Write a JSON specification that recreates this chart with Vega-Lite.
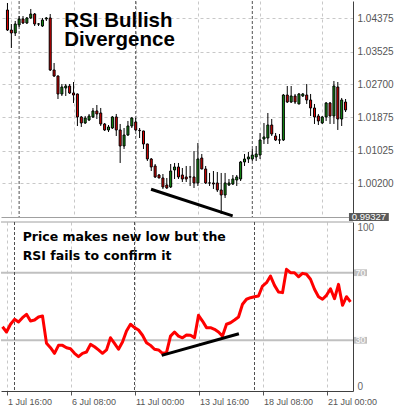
{
 "$schema": "https://vega.github.io/schema/vega-lite/v6.json",
 "padding": 0,
 "background": "white",
 "spacing": 5,
 "bounds": "flush",
 "config": {"view": {"stroke": null}, "axis": {"labelFont": "Liberation Sans", "titleFont": "Liberation Sans"}},
 "resolve": {"scale": {"x": "independent", "y": "independent"}},
 "datasets": {
  "seps": [{"s": 3}, {"s": 33}, {"s": 63}],
  "bars": [
  {"i":0,"o":1.04585,"h":1.04762,"l":1.04054,"c":1.04079,"rsi":38.0},
  {"i":1,"o":1.04079,"h":1.04231,"l":1.03624,"c":1.04003,"rsi":34.9},
  {"i":2,"o":1.04003,"h":1.04307,"l":1.03927,"c":1.04231,"rsi":39.5},
  {"i":3,"o":1.04206,"h":1.04433,"l":1.04155,"c":1.04358,"rsi":42.4},
  {"i":4,"o":1.04358,"h":1.04433,"l":1.04231,"c":1.04256,"rsi":40.8},
  {"i":5,"o":1.04256,"h":1.04408,"l":1.04231,"c":1.04383,"rsi":43.4},
  {"i":6,"o":1.04383,"h":1.04611,"l":1.04358,"c":1.04484,"rsi":45.4},
  {"i":7,"o":1.04484,"h":1.04509,"l":1.04180,"c":1.04231,"rsi":41.4},
  {"i":8,"o":1.04229,"h":1.04256,"l":1.04180,"c":1.04233,"rsi":42.0},
  {"i":9,"o":1.04180,"h":1.04383,"l":1.04155,"c":1.04332,"rsi":43.8},
  {"i":10,"o":1.04358,"h":1.04408,"l":1.04307,"c":1.04383,"rsi":44.4},
  {"i":11,"o":1.04383,"h":1.04484,"l":1.03042,"c":1.03067,"rsi":28.2},
  {"i":12,"o":1.03067,"h":1.03244,"l":1.02890,"c":1.02915,"rsi":25.6},
  {"i":13,"o":1.02915,"h":1.02930,"l":1.02333,"c":1.02460,"rsi":22.3},
  {"i":14,"o":1.02460,"h":1.02713,"l":1.02409,"c":1.02637,"rsi":27.0},
  {"i":15,"o":1.02612,"h":1.02713,"l":1.02409,"c":1.02662,"rsi":27.0},
  {"i":16,"o":1.02662,"h":1.02713,"l":1.02460,"c":1.02485,"rsi":25.6},
  {"i":17,"o":1.02485,"h":1.02763,"l":1.02232,"c":1.02434,"rsi":25.0},
  {"i":18,"o":1.02460,"h":1.02470,"l":1.01650,"c":1.01878,"rsi":22.3},
  {"i":19,"o":1.01878,"h":1.01903,"l":1.01625,"c":1.01726,"rsi":20.3},
  {"i":20,"o":1.01726,"h":1.01903,"l":1.01701,"c":1.01852,"rsi":22.3},
  {"i":21,"o":1.01802,"h":1.01954,"l":1.01777,"c":1.01903,"rsi":23.1},
  {"i":22,"o":1.01878,"h":1.02106,"l":1.01852,"c":1.02030,"rsi":27.6},
  {"i":23,"o":1.02030,"h":1.02181,"l":1.01827,"c":1.01954,"rsi":26.2},
  {"i":24,"o":1.01979,"h":1.02106,"l":1.01650,"c":1.01701,"rsi":24.3},
  {"i":25,"o":1.01701,"h":1.01726,"l":1.01524,"c":1.01549,"rsi":22.3},
  {"i":26,"o":1.01549,"h":1.01675,"l":1.01498,"c":1.01625,"rsi":24.3},
  {"i":27,"o":1.01599,"h":1.01903,"l":1.01574,"c":1.01878,"rsi":31.5},
  {"i":28,"o":1.01878,"h":1.01954,"l":1.01397,"c":1.01549,"rsi":28.2},
  {"i":29,"o":1.01549,"h":1.01701,"l":1.00714,"c":1.01144,"rsi":24.7},
  {"i":30,"o":1.01144,"h":1.01599,"l":1.01068,"c":1.01422,"rsi":29.0},
  {"i":31,"o":1.01422,"h":1.01777,"l":1.01397,"c":1.01650,"rsi":35.5},
  {"i":32,"o":1.01650,"h":1.01878,"l":1.01599,"c":1.01852,"rsi":39.5},
  {"i":33,"o":1.01751,"h":1.01852,"l":1.01524,"c":1.01549,"rsi":37.5},
  {"i":34,"o":1.01540,"h":1.01599,"l":1.01346,"c":1.01532,"rsi":36.1},
  {"i":35,"o":1.01524,"h":1.01530,"l":1.01068,"c":1.01195,"rsi":33.0},
  {"i":36,"o":1.01195,"h":1.01200,"l":1.00764,"c":1.00815,"rsi":28.6},
  {"i":37,"o":1.00815,"h":1.00840,"l":1.00511,"c":1.00613,"rsi":27.0},
  {"i":38,"o":1.00638,"h":1.00688,"l":1.00334,"c":1.00360,"rsi":24.7},
  {"i":39,"o":1.00410,"h":1.00435,"l":1.00330,"c":1.00334,"rsi":24.3},
  {"i":40,"o":1.00334,"h":1.00435,"l":1.00056,"c":1.00107,"rsi":22.3},
  {"i":41,"o":1.00157,"h":1.00334,"l":1.00056,"c":1.00081,"rsi":22.7},
  {"i":42,"o":1.00107,"h":1.00688,"l":1.00081,"c":1.00511,"rsi":32.5},
  {"i":43,"o":1.00537,"h":1.00714,"l":1.00309,"c":1.00613,"rsi":34.9},
  {"i":44,"o":1.00613,"h":1.00714,"l":1.00309,"c":1.00360,"rsi":32.5},
  {"i":45,"o":1.00410,"h":1.00587,"l":1.00233,"c":1.00309,"rsi":31.5},
  {"i":46,"o":1.00360,"h":1.00638,"l":1.00233,"c":1.00309,"rsi":33.1},
  {"i":47,"o":1.00362,"h":1.00638,"l":1.00132,"c":1.00358,"rsi":33.0},
  {"i":48,"o":1.00360,"h":1.01017,"l":1.00081,"c":1.00208,"rsi":31.5},
  {"i":49,"o":1.00208,"h":1.01220,"l":1.00132,"c":1.00815,"rsi":44.8},
  {"i":50,"o":1.00840,"h":1.00942,"l":1.00555,"c":1.00562,"rsi":41.4},
  {"i":51,"o":1.00562,"h":1.00638,"l":1.00182,"c":1.00208,"rsi":37.5},
  {"i":52,"o":1.00210,"h":1.00461,"l":1.00132,"c":1.00206,"rsi":37.5},
  {"i":53,"o":1.00208,"h":1.00511,"l":1.00056,"c":1.00182,"rsi":36.5},
  {"i":54,"o":1.00208,"h":1.00486,"l":0.99980,"c":1.00031,"rsi":34.9},
  {"i":55,"o":1.00031,"h":1.00461,"l":0.99423,"c":0.99904,"rsi":32.5},
  {"i":56,"o":0.99904,"h":1.00461,"l":0.99828,"c":1.00208,"rsi":39.5},
  {"i":57,"o":1.00157,"h":1.00309,"l":1.00132,"c":1.00208,"rsi":40.4},
  {"i":58,"o":1.00182,"h":1.00410,"l":1.00157,"c":1.00309,"rsi":42.0},
  {"i":59,"o":1.00284,"h":1.00410,"l":1.00132,"c":1.00360,"rsi":43.8},
  {"i":60,"o":1.00309,"h":1.00764,"l":1.00258,"c":1.00739,"rsi":51.3},
  {"i":61,"o":1.00739,"h":1.00942,"l":1.00638,"c":1.00815,"rsi":54.3},
  {"i":62,"o":1.00815,"h":1.00992,"l":1.00714,"c":1.00866,"rsi":55.2},
  {"i":63,"o":1.00815,"h":1.01068,"l":1.00764,"c":1.00916,"rsi":55.8},
  {"i":64,"o":1.00866,"h":1.01144,"l":1.00764,"c":1.00942,"rsi":56.2},
  {"i":65,"o":1.00916,"h":1.01473,"l":1.00815,"c":1.01296,"rsi":62.1},
  {"i":66,"o":1.01321,"h":1.01726,"l":1.01195,"c":1.01372,"rsi":64.1},
  {"i":67,"o":1.01346,"h":1.01979,"l":1.01195,"c":1.01675,"rsi":68.0},
  {"i":68,"o":1.01675,"h":1.01827,"l":1.01397,"c":1.01448,"rsi":62.5},
  {"i":69,"o":1.01397,"h":1.01473,"l":1.01270,"c":1.01296,"rsi":58.6},
  {"i":70,"o":1.01298,"h":1.01448,"l":1.01195,"c":1.01294,"rsi":58.2},
  {"i":71,"o":1.01296,"h":1.02460,"l":1.01270,"c":1.02434,"rsi":72.0},
  {"i":72,"o":1.02434,"h":1.02662,"l":1.02232,"c":1.02257,"rsi":70.0},
  {"i":73,"o":1.02257,"h":1.02662,"l":1.02232,"c":1.02409,"rsi":70.0},
  {"i":74,"o":1.02409,"h":1.02460,"l":1.02207,"c":1.02257,"rsi":67.6},
  {"i":75,"o":1.02207,"h":1.02485,"l":1.02200,"c":1.02460,"rsi":69.6},
  {"i":76,"o":1.02409,"h":1.02485,"l":1.02384,"c":1.02460,"rsi":69.1},
  {"i":77,"o":1.02434,"h":1.02713,"l":1.02207,"c":1.02308,"rsi":66.1},
  {"i":78,"o":1.02308,"h":1.02460,"l":1.01903,"c":1.02106,"rsi":60.2},
  {"i":79,"o":1.02106,"h":1.02207,"l":1.01701,"c":1.01878,"rsi":55.8},
  {"i":80,"o":1.01903,"h":1.01954,"l":1.01675,"c":1.01777,"rsi":54.3},
  {"i":81,"o":1.01726,"h":1.01903,"l":1.01701,"c":1.01878,"rsi":56.6},
  {"i":82,"o":1.01878,"h":1.02257,"l":1.01777,"c":1.02232,"rsi":60.5},
  {"i":83,"o":1.02232,"h":1.02257,"l":1.01701,"c":1.01903,"rsi":54.6},
  {"i":84,"o":1.01903,"h":1.02789,"l":1.01701,"c":1.02662,"rsi":63.1},
  {"i":85,"o":1.02637,"h":1.02763,"l":1.01549,"c":1.01827,"rsi":50.7},
  {"i":86,"o":1.01827,"h":1.02359,"l":1.01650,"c":1.02308,"rsi":55.8},
  {"i":87,"o":1.02257,"h":1.02333,"l":1.02004,"c":1.02055,"rsi":52.7}
 ]},
 "vconcat": [
  {
   "width": 352,
   "height": 216,
   "layer": [
    {
     "data": {"name": "seps"},
     "mark": {"type": "rule", "color": "#505050", "strokeWidth": 1, "strokeDash": [3, 2]},
     "encoding": {
      "x": {"field": "s", "type": "quantitative", "scale": {"domain": [-0.375, 87.625], "nice": false, "zero": false},
       "axis": {"values": [1,9,17,25,33,41,49,57,65,73,81], "labels": false, "ticks": false, "domain": true, "domainColor": "#a0a0a0", "title": null, "grid": true, "gridColor": "#c8c8c8", "gridDash": [3, 3]}}
     }
    },
    {
     "data": {"name": "bars"},
     "mark": {"type": "rule", "color": "#000000", "strokeWidth": 1, "clip": true},
     "encoding": {
      "x": {"field": "i", "type": "quantitative", "scale": {"domain": [-0.375, 87.625], "nice": false, "zero": false}},
      "y": {"field": "l", "type": "quantitative", "scale": {"domain": [0.99347, 1.04813], "nice": false, "zero": false},
       "axis": {"orient": "right", "values": [1.002, 1.01025, 1.01875, 1.027, 1.03525, 1.04375], "format": ".5f", "title": null, "ticks": false, "labelPadding": 4, "labelFontSize": 10, "labelColor": "#555555", "domainColor": "#404040", "grid": true, "gridColor": "#c8c8c8", "gridDash": [3, 3]}},
      "y2": {"field": "h"}
     }
    },
    {
     "data": {"name": "bars"},
     "mark": {"type": "bar", "size": 2, "stroke": "#000000", "strokeWidth": 1, "clip": true},
     "encoding": {
      "x": {"field": "i", "type": "quantitative", "scale": {"domain": [-0.375, 87.625], "nice": false, "zero": false}},
      "y": {"field": "o", "type": "quantitative", "scale": {"domain": [0.99347, 1.04813], "nice": false, "zero": false}},
      "y2": {"field": "c"},
      "fill": {"condition": {"test": "datum.c >= datum.o", "value": "#139213"}, "value": "#e00000"}
     }
    },
    {
     "data": {"values": [{"i": 36.95, "p": 1.00049}, {"i": 57.95, "p": 0.99374}]},
     "mark": {"type": "line", "color": "#000000", "strokeWidth": 3, "strokeJoin": "round"},
     "encoding": {
      "x": {"field": "i", "type": "quantitative", "scale": {"domain": [-0.375, 87.625], "nice": false, "zero": false}},
      "y": {"field": "p", "type": "quantitative", "scale": {"domain": [0.99347, 1.04813], "nice": false, "zero": false}}
     }
    },
    {
     "data": {"values": [{}]},
     "mark": {"type": "text", "text": ["RSI Bullish", "Divergence"], "lineHeight": 19.3, "font": "Liberation Sans", "fontWeight": "bold", "fontSize": 20.5, "align": "left", "baseline": "alphabetic", "color": "#000000"},
     "encoding": {
      "x": {"datum": 14.625, "type": "quantitative"},
      "y": {"datum": 1.04163, "type": "quantitative"}
     }
    },
    {
     "data": {"values": [{}]},
     "mark": {"type": "rect", "color": "#5a5a5a"},
     "encoding": {
      "x": {"datum": 87.875, "type": "quantitative"},
      "x2": {"datum": 98.125},
      "y": {"datum": 0.99449, "type": "quantitative"},
      "y2": {"datum": 0.99246}
     }
    },
    {
     "data": {"values": [{}]},
     "mark": {"type": "text", "text": "0.99327", "font": "Liberation Sans", "fontSize": 9.5, "align": "center", "baseline": "middle", "color": "#ffffff"},
     "encoding": {
      "x": {"datum": 93.0, "type": "quantitative"},
      "y": {"datum": 0.99347, "type": "quantitative"}
     }
    }
   ]
  },
  {
   "width": 352,
   "height": 169,
   "layer": [
    {
     "data": {"values": [{}]},
     "mark": {"type": "rule", "color": "#c0c0c0", "strokeWidth": 2},
     "encoding": {"y": {"datum": 70, "type": "quantitative", "scale": {"domain": [0, 100], "nice": false}}}
    },
    {
     "data": {"values": [{}]},
     "mark": {"type": "rule", "color": "#c0c0c0", "strokeWidth": 2},
     "encoding": {"y": {"datum": 30, "type": "quantitative", "scale": {"domain": [0, 100], "nice": false}}}
    },
    {
     "data": {"values": [{}]},
     "mark": {"type": "rule", "color": "#a0a0a0", "strokeWidth": 1},
     "encoding": {"y": {"datum": 100, "type": "quantitative", "scale": {"domain": [0, 100], "nice": false}}}
    },
    {
     "data": {"name": "seps"},
     "mark": {"type": "rule", "color": "#505050", "strokeWidth": 1, "strokeDash": [3, 2]},
     "encoding": {
      "x": {"field": "s", "type": "quantitative", "scale": {"domain": [-0.375, 87.625], "nice": false, "zero": false},
       "axis": {"values": [1,9,17,25,33,41,49,57,65,73,81], "title": null, "grid": true, "gridColor": "#c8c8c8", "gridDash": [3, 3],
        "labelExpr": "datum.value == 1 ? '1 Jul 16:00' : datum.value == 17 ? '6 Jul 08:00' : datum.value == 33 ? '11 Jul 00:00' : datum.value == 49 ? '13 Jul 16:00' : datum.value == 65 ? '18 Jul 08:00' : datum.value == 81 ? '21 Jul 00:00' : ''",
        "labelAlign": "left", "labelBaseline": "top", "labelOffset": 1, "labelPadding": 2, "labelFontSize": 9, "labelColor": "#555555", "labelFlush": false, "labelOverlap": false, "labelBound": false,
        "tickSize": 4, "tickColor": "#555555", "tickOpacity": {"condition": {"test": "datum.value % 16 == 1", "value": 1}, "value": 0},
        "domainColor": "#404040"}}
     }
    },
    {
     "data": {"name": "bars"},
     "mark": {"type": "line", "color": "#ff0000", "strokeWidth": 3, "strokeJoin": "round", "clip": true},
     "encoding": {
      "x": {"field": "i", "type": "quantitative", "scale": {"domain": [-0.375, 87.625], "nice": false, "zero": false}},
      "y": {"field": "rsi", "type": "quantitative", "scale": {"domain": [0, 100], "nice": false},
       "axis": {"orient": "right", "values": [0, 100], "title": null, "grid": false, "ticks": false, "labelPadding": 4, "labelFlush": true, "labelFontSize": 10, "labelColor": "#666666", "domainColor": "#404040"}}
     }
    },
    {
     "data": {"values": [{"i": 39.8, "r": 21.1}, {"i": 59.1, "r": 33.9}]},
     "mark": {"type": "line", "color": "#000000", "strokeWidth": 3, "strokeJoin": "round"},
     "encoding": {
      "x": {"field": "i", "type": "quantitative", "scale": {"domain": [-0.375, 87.625], "nice": false, "zero": false}},
      "y": {"field": "r", "type": "quantitative", "scale": {"domain": [0, 100], "nice": false}}
     }
    },
    {
     "data": {"values": [{}]},
     "mark": {"type": "text", "text": ["Price makes new low but the", "RSI fails to confirm it"], "lineHeight": 19.8, "font": "DejaVu Sans", "fontWeight": "bold", "fontSize": 12.5, "align": "left", "baseline": "alphabetic", "color": "#000000"},
     "encoding": {"x": {"datum": 5.05, "type": "quantitative"}, "y": {"datum": 89.05, "type": "quantitative"}}
    },
    {
     "data": {"values": [{}]},
     "mark": {"type": "rect", "color": "#c0c0c0"},
     "encoding": {"x": {"datum": 87.875, "type": "quantitative"}, "x2": {"datum": 91.125}, "y": {"datum": 72.0, "type": "quantitative"}, "y2": {"datum": 68.0}}
    },
    {
     "data": {"values": [{}]},
     "mark": {"type": "rect", "color": "#c0c0c0"},
     "encoding": {"x": {"datum": 87.875, "type": "quantitative"}, "x2": {"datum": 91.125}, "y": {"datum": 32.0, "type": "quantitative"}, "y2": {"datum": 28.0}}
    },
    {
     "data": {"values": [{}]},
     "mark": {"type": "text", "text": "70", "font": "Liberation Sans", "fontSize": 9, "align": "center", "baseline": "middle", "color": "#ffffff"},
     "encoding": {"x": {"datum": 89.5, "type": "quantitative"}, "y": {"datum": 70, "type": "quantitative"}}
    },
    {
     "data": {"values": [{}]},
     "mark": {"type": "text", "text": "30", "font": "Liberation Sans", "fontSize": 9, "align": "center", "baseline": "middle", "color": "#ffffff"},
     "encoding": {"x": {"datum": 89.5, "type": "quantitative"}, "y": {"datum": 30, "type": "quantitative"}}
    }
   ]
  }
 ]
}
